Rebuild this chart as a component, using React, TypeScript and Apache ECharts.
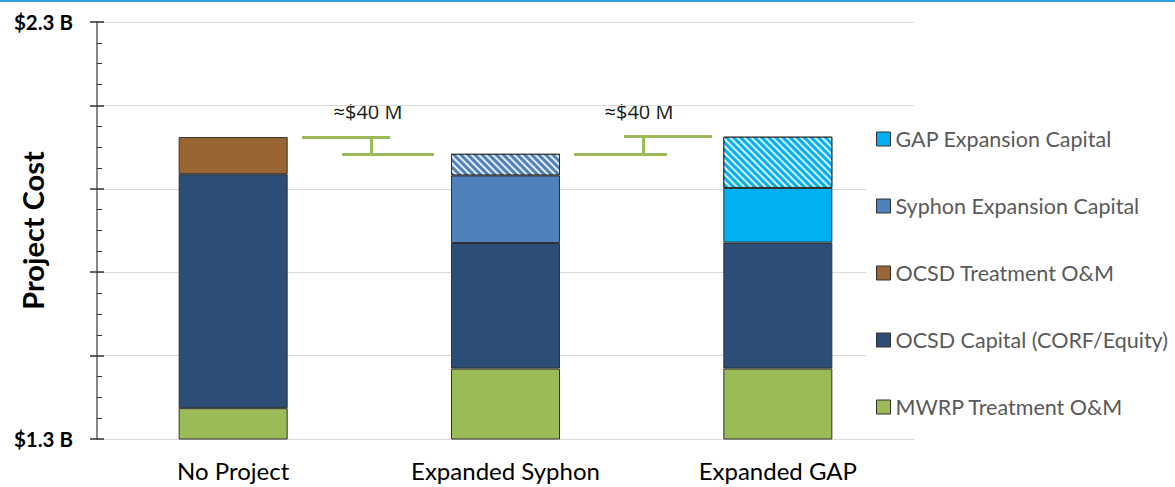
import React, { useEffect, useRef } from "react";
import * as echarts from "echarts";

// ---- Data (values in $ billions) ----
const categories = ["No Project", "Expanded Syphon", "Expanded GAP"];
const mwrpTreatmentOM = [1.374, 1.469, 1.469];
const ocsdCapital = [0.561, 0.301, 0.302];
const ocsdTreatmentOM = [0.089, null, null];
const syphonCapital = [null, 0.162, null];
const syphonCapitalRange = [null, 0.052, null];
const gapCapital = [null, null, 0.131];
const gapCapitalRange = [null, null, 0.123];

const yMin = 1.3;
const yMax = 2.3;
const yInterval = 0.2;
const yTickLabels = [
  { value: 1.3, text: "$1.3 B" },
  { value: 2.3, text: "$2.3 B" },
];

const legendOrder = [
  "GAP Expansion Capital",
  "Syphon Expansion Capital",
  "OCSD Treatment O&M",
  "OCSD Capital (CORF/Equity)",
  "MWRP Treatment O&M",
];

const annotations = [
  { from: 0, to: 1, label: "≈$40 M" },
  { from: 1, to: 2, label: "≈$40 M" },
];

// ---- Styles / layout ----
const FONT = "Lato, 'Liberation Sans', sans-serif";
const COLORS = {
  mwrp: "#9BBB59",
  ocsdCap: "#2C4D75",
  ocsdOM: "#996633",
  syphon: "#4F81BD",
  gap: "#00B0F0",
  bracket: "#9BBB59",
};
// pixel layout of the "≈$40 M" brackets
const bracketLayout = [
  { fromLine: [302, 390], toLine: [342, 434], stemX: 371, textX: 368, textY: 111 },
  { fromLine: [574, 667], toLine: [624, 712], stemX: 643, textX: 639, textY: 111 },
];

const seriesDefs = [
  { name: "MWRP Treatment O&M", data: mwrpTreatmentOM, color: COLORS.mwrp, hatched: false },
  { name: "OCSD Capital (CORF/Equity)", data: ocsdCapital, color: COLORS.ocsdCap, hatched: false },
  { name: "OCSD Treatment O&M", data: ocsdTreatmentOM, color: COLORS.ocsdOM, hatched: false },
  { name: "Syphon Expansion Capital", data: syphonCapital, color: COLORS.syphon, hatched: false },
  { name: "Syphon Expansion Capital (range)", data: syphonCapitalRange, color: COLORS.syphon, hatched: true },
  { name: "GAP Expansion Capital", data: gapCapital, color: COLORS.gap, hatched: false },
  { name: "GAP Expansion Capital (range)", data: gapCapitalRange, color: COLORS.gap, hatched: true },
];

function totals(): number[] {
  return categories.map((_, i) =>
    seriesDefs.reduce((s, d) => s + ((d.data[i] as number | null) ?? 0), 0)
  );
}

function buildOption() {
  const tot = totals();
  const markLineData: any[] = [];
  annotations.forEach((a, k) => {
    const L = bracketLayout[k];
    const yf = tot[a.from];
    const yt = tot[a.to];
    markLineData.push([{ x: L.fromLine[0], yAxis: yf }, { x: L.fromLine[1], yAxis: yf }]);
    markLineData.push([{ x: L.toLine[0], yAxis: yt }, { x: L.toLine[1], yAxis: yt }]);
    markLineData.push([{ x: L.stemX, yAxis: yf }, { x: L.stemX, yAxis: yt }]);
  });

  const series = seriesDefs.map((d, idx) => {
    const s: any = {
      name: d.name,
      type: "bar",
      stack: "cost",
      data: d.data,
      barWidth: 109,
      itemStyle: {
        color: d.color,
        borderColor: "#303030",
        borderWidth: 1,
        decal: d.hatched
          ? {
              symbol: "rect",
              symbolSize: 1,
              color: "rgba(255,255,255,0.85)",
              dashArrayX: [1, 0],
              dashArrayY: [1.5, 3],
              rotation: Math.PI / 4,
            }
          : "none",
      },
      emphasis: { disabled: true },
    };
    if (idx === 0) {
      s.markLine = {
        silent: true,
        symbol: ["none", "none"],
        label: { show: false },
        lineStyle: { color: COLORS.bracket, width: 3, type: "solid" },
        emphasis: { disabled: true },
        data: markLineData,
      };
    }
    return s;
  });

  const graphic: any[] = [
    {
      type: "rect",
      shape: { x: 0, y: 0, width: 1175, height: 2 },
      style: { fill: "#2EA3DB" },
      silent: true,
    },
  ];
  annotations.forEach((a, k) => {
    const L = bracketLayout[k];
    graphic.push({
      type: "text",
      x: L.textX,
      y: L.textY,
      silent: true,
      style: {
        text: a.label,
        align: "center",
        verticalAlign: "middle",
        fontSize: 20,
        fontFamily: "'Open Sans', 'DejaVu Sans', sans-serif",
        fill: "#1a1a1a",
      },
    });
  });

  return {
    animation: false,
    backgroundColor: "#ffffff",
    grid: { left: 97, right: 261, top: 22, bottom: 48, containLabel: false, outerBoundsMode: "none" },
    legend: {
      data: legendOrder,
      orient: "vertical",
      left: 866,
      top: 118,
      padding: [10, 10, 10, 10],
      backgroundColor: "#ffffff",
      itemGap: 45,
      itemWidth: 14,
      itemHeight: 14,
      icon: "rect",
      selectedMode: false,
      itemStyle: { borderColor: "#303030", borderWidth: 1, decal: "none" },
      textStyle: { color: "#595959", fontSize: 21.5, lineHeight: 20, fontFamily: FONT },
    },
    xAxis: {
      type: "category",
      data: categories,
      axisLine: { show: true, lineStyle: { color: "#d9d9d9", width: 1 } },
      axisTick: { show: false },
      axisLabel: { color: "#000000", fontSize: 24, fontFamily: FONT, margin: 19 },
    },
    yAxis: [
      {
        type: "value",
        min: yMin,
        max: yMax,
        interval: yInterval,
        name: "Project Cost",
        nameLocation: "middle",
        nameRotate: 90,
        nameGap: 50,
        nameMoveOverlap: false,
        nameTextStyle: { color: "#000000", fontSize: 29, fontWeight: "bold", fontFamily: FONT },
        axisLine: { show: true, lineStyle: { color: "#606060", width: 1.5 } },
        axisTick: { show: true, inside: true, length: 7, lineStyle: { color: "#303030", width: 1.5 } },
        minorTick: { show: true, splitNumber: 4, length: 5, lineStyle: { color: "#303030", width: 1 } },
        splitLine: { show: true, lineStyle: { color: "#d9d9d9", width: 1 } },
        axisLabel: {
          margin: 24,
          color: "#000000",
          fontSize: 20.5,
          fontWeight: "bold",
          fontFamily: FONT,
          formatter: (v: number) => {
            const t = yTickLabels.find((l) => Math.abs(l.value - v) < 1e-6);
            return t ? t.text : "";
          },
        },
      },
      {
        type: "value",
        min: yMin,
        max: yMax,
        interval: yInterval,
        position: "left",
        offset: 0,
        axisLine: { show: false },
        axisTick: { show: true, inside: false, length: 7, lineStyle: { color: "#303030", width: 1.5 } },
        axisLabel: { show: false },
        splitLine: { show: false },
      },
    ],
    series,
    graphic,
  };
}

export default function App() {
  const ref = useRef<HTMLDivElement>(null);
  useEffect(() => {
    if (!ref.current) return;
    const chart = echarts.init(ref.current, null, { renderer: "svg" });
    chart.setOption(buildOption() as any);
    return () => chart.dispose();
  }, []);
  return (
    <div
      ref={ref}
      style={{ position: "fixed", left: 0, top: 0, width: 1175, height: 487, background: "#fff" }}
    />
  );
}
